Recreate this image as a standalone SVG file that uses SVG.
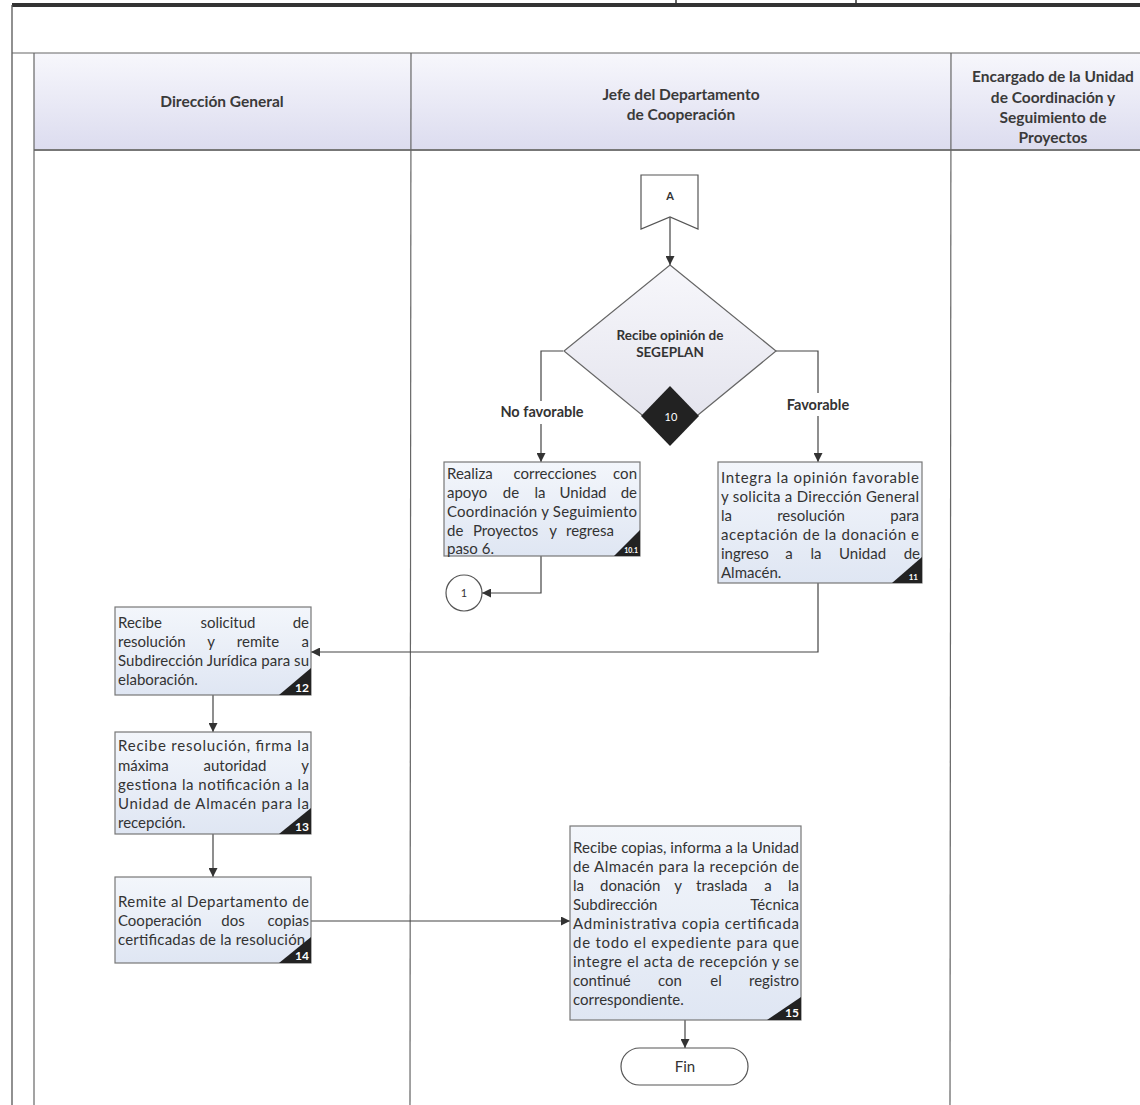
<svg xmlns="http://www.w3.org/2000/svg" width="1140" height="1105" viewBox="0 0 1140 1105">
<defs>
<linearGradient id="hdr" x1="0" y1="0" x2="0" y2="1">
<stop offset="0" stop-color="#f7f7fc"/>
<stop offset="1" stop-color="#dcdcef"/>
</linearGradient>
<linearGradient id="box" x1="0" y1="0" x2="0" y2="1">
<stop offset="0" stop-color="#f3f6fb"/>
<stop offset="1" stop-color="#dfe6f3"/>
</linearGradient>
<linearGradient id="dia" x1="0" y1="0" x2="0" y2="1">
<stop offset="0" stop-color="#f7f7fb"/>
<stop offset="1" stop-color="#e2e2ec"/>
</linearGradient>
<marker id="arr" viewBox="0 0 10 10" refX="10" refY="5" markerWidth="9" markerHeight="9" markerUnits="userSpaceOnUse" orient="auto">
<path d="M0,0 L10,5 L0,10 z" fill="#333"/>
</marker>
</defs>
<style>
.frame{fill:none;stroke:#555;stroke-width:1.3}
.lane{fill:none;stroke:#666;stroke-width:1.2}
.hd{font-family:Lato,"Open Sans","Liberation Sans",sans-serif;font-size:15.5px;font-weight:bold;fill:#3a3a3a;text-anchor:middle}
.bx{fill:url(#box);stroke:#777;stroke-width:1.2}
.t{font-family:Lato,"Open Sans","Liberation Sans",sans-serif;font-size:15px;fill:#333}
.m{text-anchor:middle}
.tri{fill:#222}
.num{font-family:Lato,"Liberation Sans",sans-serif;font-size:12px;font-weight:bold;fill:#fff;text-anchor:end}
.lbl{font-family:Lato,"Liberation Sans",sans-serif;font-size:14.5px;font-weight:bold;fill:#333;text-anchor:middle}
.dt{font-family:Lato,"Liberation Sans",sans-serif;font-size:13.5px;font-weight:bold;fill:#333;text-anchor:middle}
.sm{font-family:Lato,"Liberation Sans",sans-serif;font-size:11px;fill:#333;text-anchor:middle}
.cn{fill:none;stroke:#444;stroke-width:1.2}
.cna{fill:none;stroke:#444;stroke-width:1.2;marker-end:url(#arr)}
</style>
<rect x="0" y="0" width="1140" height="1105" fill="#fff"/>

<g id="frame">
<line x1="12" y1="5" x2="1140" y2="5" stroke="#333" stroke-width="4"/>
<line x1="676" y1="0" x2="676" y2="5" stroke="#333" stroke-width="1.5"/>
<line x1="856" y1="0" x2="856" y2="5" stroke="#333" stroke-width="1.5"/>
<line x1="12" y1="5" x2="12" y2="1105" class="frame"/>
<rect x="34" y="53" width="1106" height="97" fill="url(#hdr)"/>
<line x1="12" y1="53" x2="1140" y2="53" class="lane"/>
<line x1="34" y1="150" x2="1140" y2="150" stroke="#777" stroke-width="2"/>
<line x1="34" y1="53" x2="34" y2="1105" class="lane"/>
<line x1="411" y1="53" x2="410" y2="1105" class="lane"/>
<line x1="951" y1="53" x2="950" y2="1105" class="lane"/>
</g>

<g id="headers">
<text class="hd" x="222" y="107">Dirección General</text>
<text class="hd" x="681" y="100">Jefe del Departamento</text>
<text class="hd" x="681" y="120">de Cooperación</text>
<text class="hd" x="1053" y="82">Encargado de la Unidad</text>
<text class="hd" x="1053" y="103">de Coordinación y</text>
<text class="hd" x="1053" y="123">Seguimiento de</text>
<text class="hd" x="1053" y="143">Proyectos</text>
</g>

<g id="connectors">
<path class="cna" d="M670,217 V265"/>
<path class="cn" d="M563,351 H541 V401"/>
<path class="cna" d="M541,424 V462"/>
<path class="cn" d="M775,351 H818 V393"/>
<path class="cna" d="M818,416 V462"/>
<path class="cna" d="M541,556 V593 H482"/>
<path class="cna" d="M818,583 V652 H311"/>
<path class="cna" d="M213,695 V732"/>
<path class="cna" d="M213,834 V877"/>
<path class="cna" d="M311,921 H570"/>
<path class="cna" d="M685,1020 V1048"/>
<text class="lbl" x="542" y="417">No favorable</text>
<text class="lbl" x="818" y="410">Favorable</text>
</g>

<g id="nodeA">
<polygon points="641,175 698,175 698,229 670,217 641,229" fill="#fff" stroke="#555" stroke-width="1.2"/>
<text class="sm" x="670" y="200" style="font-weight:bold">A</text>
</g>

<g id="node10">
<polygon points="670,265 776,351 670,438 564,351" fill="url(#dia)" stroke="#666" stroke-width="1.2"/>
<polygon points="670,386 699,416 670,446 641,416" fill="#222"/>
<text class="dt" x="670" y="340">Recibe opinión de</text>
<text class="dt" x="670" y="357">SEGEPLAN</text>
<text class="sm" x="671" y="421" style="fill:#fff">10</text>
</g>

<g id="node10_1">
<rect class="bx" x="444" y="462" width="196" height="94"/>
<text class="t" y="479"><tspan x="447">Realiza</tspan><tspan x="555" text-anchor="middle">correcciones</tspan><tspan x="637" text-anchor="end">con</tspan></text>
<text class="t" y="498"><tspan x="447">apoyo</tspan><tspan x="511" text-anchor="middle">de</tspan><tspan x="540" text-anchor="middle">la</tspan><tspan x="583" text-anchor="middle">Unidad</tspan><tspan x="637" text-anchor="end">de</tspan></text>
<text class="t" x="447" y="517" textLength="190" lengthAdjust="spacing">Coordinación y Seguimiento</text>
<text class="t" y="536"><tspan x="447">de</tspan><tspan x="473">Proyectos</tspan><tspan x="553" text-anchor="middle">y</tspan><tspan x="566">regresa</tspan></text>
<text class="t" x="447" y="554">paso 6.</text>
<polygon class="tri" points="614,556 640,556 640,530"/>
<text class="num" x="638" y="553" style="font-size:7px">10.1</text>
</g>

<g id="node1">
<circle cx="464" cy="593" r="18" fill="#fff" stroke="#555" stroke-width="1.2"/>
<text class="sm" x="464" y="597">1</text>
</g>

<g id="node11">
<rect class="bx" x="718" y="462" width="204" height="121"/>
<text class="t" x="721" y="483" textLength="198" lengthAdjust="spacing">Integra la opinión favorable</text>
<text class="t" x="721" y="502" textLength="198" lengthAdjust="spacing">y solicita a Dirección General</text>
<text class="t" y="521"><tspan x="721">la</tspan><tspan x="811" text-anchor="middle">resolución</tspan><tspan x="919" text-anchor="end">para</tspan></text>
<text class="t" x="721" y="540" textLength="198" lengthAdjust="spacing">aceptación de la donación e</text>
<text class="t" y="559"><tspan x="721">ingreso</tspan><tspan x="789" text-anchor="middle">a</tspan><tspan x="816" text-anchor="middle">la</tspan><tspan x="839">Unidad</tspan><tspan x="920" text-anchor="end">de</tspan></text>
<text class="t" x="721" y="578">Almacén.</text>
<polygon class="tri" points="892,583 922,583 922,557"/>
<text class="num" x="918" y="580" style="font-size:8px">11</text>
</g>

<g id="node12">
<rect class="bx" x="115" y="607" width="196" height="88"/>
<text class="t" y="628"><tspan x="118">Recibe</tspan><tspan x="228" text-anchor="middle">solicitud</tspan><tspan x="309" text-anchor="end">de</tspan></text>
<text class="t" y="647"><tspan x="118">resolución</tspan><tspan x="211" text-anchor="middle">y</tspan><tspan x="258" text-anchor="middle">remite</tspan><tspan x="309" text-anchor="end">a</tspan></text>
<text class="t" x="118" y="666" textLength="191" lengthAdjust="spacing">Subdirección Jurídica para su</text>
<text class="t" x="118" y="685">elaboración.</text>
<polygon class="tri" points="279,695 311,695 311,668"/>
<text class="num" x="309" y="692">12</text>
</g>

<g id="node13">
<rect class="bx" x="115" y="732" width="196" height="102"/>
<text class="t" x="118" y="751" textLength="191" lengthAdjust="spacing">Recibe resolución, firma la</text>
<text class="t" y="771"><tspan x="118">máxima</tspan><tspan x="235" text-anchor="middle">autoridad</tspan><tspan x="309" text-anchor="end">y</tspan></text>
<text class="t" x="118" y="790" textLength="191" lengthAdjust="spacing">gestiona la notificación a la</text>
<text class="t" x="118" y="809" textLength="191" lengthAdjust="spacing">Unidad de Almacén para la</text>
<text class="t" x="118" y="828">recepción.</text>
<polygon class="tri" points="279,834 311,834 311,808"/>
<text class="num" x="309" y="831">13</text>
</g>

<g id="node14">
<rect class="bx" x="115" y="877" width="196" height="86"/>
<text class="t" x="118" y="907" textLength="191" lengthAdjust="spacing">Remite al Departamento de</text>
<text class="t" y="926"><tspan x="118">Cooperación</tspan><tspan x="233" text-anchor="middle">dos</tspan><tspan x="309" text-anchor="end">copias</tspan></text>
<text class="t" x="118" y="945" textLength="191" lengthAdjust="spacing">certificadas de la resolución.</text>
<polygon class="tri" points="279,963 311,963 311,937"/>
<text class="num" x="309" y="960">14</text>
</g>

<g id="node15">
<rect class="bx" x="570" y="826" width="231" height="194"/>
<text class="t" x="573" y="853" textLength="226" lengthAdjust="spacing">Recibe copias, informa a la Unidad</text>
<text class="t" x="573" y="872" textLength="226" lengthAdjust="spacing">de Almacén para la recepción de</text>
<text class="t" y="891"><tspan x="573">la</tspan><tspan x="600">donación</tspan><tspan x="678" text-anchor="middle">y</tspan><tspan x="696">traslada</tspan><tspan x="768" text-anchor="middle">a</tspan><tspan x="799" text-anchor="end">la</tspan></text>
<text class="t" y="910"><tspan x="573">Subdirección</tspan><tspan x="799" text-anchor="end">Técnica</tspan></text>
<text class="t" x="573" y="929" textLength="226" lengthAdjust="spacing">Administrativa copia certificada</text>
<text class="t" x="573" y="948" textLength="226" lengthAdjust="spacing">de todo el expediente para que</text>
<text class="t" x="573" y="967" textLength="226" lengthAdjust="spacing">integre el acta de recepción y se</text>
<text class="t" y="986"><tspan x="573">continué</tspan><tspan x="670" text-anchor="middle">con</tspan><tspan x="716" text-anchor="middle">el</tspan><tspan x="799" text-anchor="end">registro</tspan></text>
<text class="t" x="573" y="1005">correspondiente.</text>
<polygon class="tri" points="767,1020 801,1020 801,997"/>
<text class="num" x="799" y="1017">15</text>
</g>

<g id="nodeFin">
<rect x="621" y="1048" width="127" height="37" rx="18.5" ry="18.5" fill="#fff" stroke="#555" stroke-width="1.2"/>
<text class="t m" x="685" y="1071.5">Fin</text>
</g>
</svg>
